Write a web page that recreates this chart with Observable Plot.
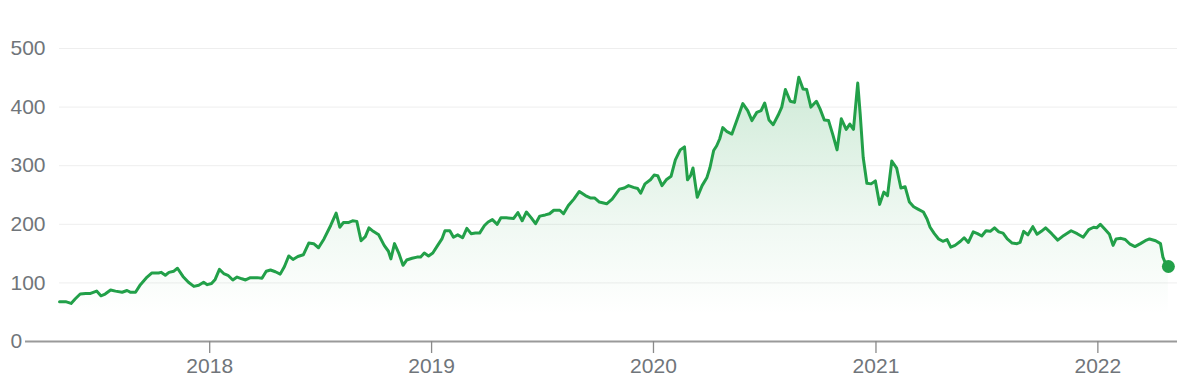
<!DOCTYPE html>
<html><head><meta charset="utf-8">
<script src="https://cdn.jsdelivr.net/npm/d3@7"></script>
<script src="https://cdn.jsdelivr.net/npm/@observablehq/plot@0.6"></script>
<style>
html,body{margin:0;padding:0;background:#fff;}
#chart svg{display:block;}
</style></head><body><div id="chart"></div>
<script>
const dates = ["2017-04-29","2017-05-09","2017-05-18","2017-05-25","2017-06-02","2017-06-11","2017-06-19","2017-06-29","2017-07-06","2017-07-13","2017-07-22","2017-07-30","2017-08-10","2017-08-18","2017-08-24","2017-09-01","2017-09-09","2017-09-20","2017-09-28","2017-10-09","2017-10-13","2017-10-20","2017-10-26","2017-11-03","2017-11-09","2017-11-18","2017-11-27","2017-12-06","2017-12-14","2017-12-22","2017-12-28",
"2018-01-04","2018-01-10","2018-01-17","2018-01-24","2018-01-31","2018-02-08","2018-02-15","2018-02-23","2018-03-01","2018-03-09","2018-03-20","2018-03-28","2018-04-04","2018-04-11","2018-04-19","2018-04-27","2018-05-04","2018-05-11","2018-05-18","2018-05-26","2018-06-04","2018-06-13","2018-06-21","2018-06-29","2018-07-08","2018-07-19","2018-07-28","2018-08-03","2018-08-09","2018-08-17","2018-08-24","2018-08-31","2018-09-07","2018-09-14","2018-09-20","2018-09-27","2018-10-06","2018-10-15","2018-10-22","2018-10-26","2018-11-01","2018-11-08","2018-11-15","2018-11-21","2018-11-30","2018-12-08","2018-12-14","2018-12-20","2018-12-27",
"2019-01-03","2019-01-11","2019-01-18","2019-01-23","2019-01-31","2019-02-06","2019-02-13","2019-02-21","2019-02-28","2019-03-07","2019-03-14","2019-03-21","2019-03-29","2019-04-04","2019-04-11","2019-04-19","2019-04-25","2019-05-04","2019-05-16","2019-05-23","2019-05-30","2019-06-06","2019-06-14","2019-06-21","2019-06-28","2019-07-07","2019-07-14","2019-07-21","2019-07-31","2019-08-06","2019-08-14","2019-08-23","2019-09-01","2019-09-11","2019-09-19","2019-09-26","2019-10-04","2019-10-16","2019-10-25","2019-11-06","2019-11-14","2019-11-21","2019-11-29","2019-12-06","2019-12-11","2019-12-18","2019-12-27",
"2020-01-02","2020-01-08","2020-01-15","2020-01-22","2020-01-30","2020-02-06","2020-02-14","2020-02-21","2020-02-26","2020-03-02","2020-03-06","2020-03-13","2020-03-21","2020-03-29","2020-04-03","2020-04-09","2020-04-14","2020-04-19","2020-04-24","2020-05-01","2020-05-09","2020-05-17","2020-05-27","2020-06-04","2020-06-11","2020-06-19","2020-06-26","2020-07-02","2020-07-09","2020-07-16","2020-07-24","2020-07-30","2020-08-05","2020-08-13","2020-08-20","2020-08-27","2020-09-03","2020-09-09","2020-09-16","2020-09-25","2020-10-01","2020-10-08","2020-10-15","2020-10-22","2020-10-29","2020-11-05","2020-11-13","2020-11-19","2020-11-25","2020-12-02","2020-12-06","2020-12-11","2020-12-17","2020-12-24","2020-12-31",
"2021-01-07","2021-01-14","2021-01-20","2021-01-27","2021-02-04","2021-02-11","2021-02-18","2021-02-25","2021-03-04","2021-03-11","2021-03-20","2021-03-26","2021-03-31","2021-04-07","2021-04-14","2021-04-21","2021-04-28","2021-05-04","2021-05-11","2021-05-20","2021-05-26","2021-06-02","2021-06-10","2021-06-17","2021-06-24","2021-07-01","2021-07-08","2021-07-15","2021-07-22","2021-07-29","2021-08-05","2021-08-13","2021-08-21","2021-08-26","2021-09-01","2021-09-08","2021-09-16","2021-09-23","2021-09-30","2021-10-07","2021-10-17","2021-10-27","2021-11-06","2021-11-18","2021-11-28","2021-12-08","2021-12-17","2021-12-25","2021-12-30",
"2022-01-05","2022-01-13","2022-01-20","2022-01-26","2022-01-31","2022-02-08","2022-02-15","2022-02-23","2022-03-03","2022-03-12","2022-03-20","2022-03-27","2022-04-06","2022-04-14","2022-04-18","2022-04-22","2022-04-27"];

const prices = [68,68,65,73,81,82,82,86,78,81,88,86,84,87,84,84,97,110,117,117,118,113,118,120,125,111,101,94,96,101,97,
99,106,123,116,113,105,110,107,105,109,109,108,120,122,119,115,128,146,140,145,148,168,167,160,175,198,219,195,203,203,206,205,172,179,194,188,182,164,154,141,167,151,130,139,142,144,144,151,146,
151,164,175,189,189,178,182,177,193,184,185,185,198,204,208,200,211,211,210,220,206,221,211,201,214,216,218,224,224,218,232,243,256,249,245,245,238,235,243,260,262,266,263,261,253,269,276,
284,283,266,276,282,310,327,332,276,283,296,246,266,280,297,326,334,346,365,358,354,377,406,394,377,391,394,407,378,370,386,400,430,410,408,451,431,430,400,410,397,378,377,353,327,380,362,371,362,441,389,314,270,269,274,
234,255,249,308,296,262,264,238,230,226,221,209,195,184,175,171,174,161,164,171,177,169,187,184,180,189,188,194,187,185,175,168,167,169,188,182,196,183,188,194,184,173,181,189,184,178,191,195,194,
200,191,183,164,175,176,174,166,162,167,172,175,172,167,144,134,128];

const yTicks = [0, 100, 200, 300, 400, 500];
const xTickDates = ["2018-01-01", "2019-01-01", "2020-01-01", "2021-01-01", "2022-01-01"];
const xTickLabels = ["2018", "2019", "2020", "2021", "2022"];
const xDomainDates = ["2017-03-04", "2022-05-12"];

const data = dates.map((d, i) => ({date: new Date(d), price: prices[i]}));
const last = data[data.length - 1];
const xTicks = xTickDates.map(d => new Date(d));
const xDomain = xDomainDates.map(d => new Date(d));
const green = "#22a049";

const gradientDefs = () => {
  const ns = "http://www.w3.org/2000/svg";
  const defs = document.createElementNS(ns, "defs");
  defs.innerHTML = `<linearGradient id="areaFill" x1="0" y1="0" x2="0" y2="1">
    <stop offset="0" stop-color="${green}" stop-opacity="0.22"/>
    <stop offset="0.55" stop-color="${green}" stop-opacity="0.07"/>
    <stop offset="0.9" stop-color="${green}" stop-opacity="0"/>
  </linearGradient>`;
  return defs;
};

const chart = Plot.plot({
  width: 1200,
  height: 390,
  marginLeft: 25,
  marginRight: 23,
  marginTop: 48,
  marginBottom: 49,
  style: {fontFamily: "'Liberation Sans', Arial, sans-serif", fontSize: "21px", color: "#70757a", background: "#fff", overflow: "visible"},
  x: {type: "utc", domain: xDomain, label: null},
  y: {domain: [0, 500], label: null},
  marks: [
    gradientDefs,
    Plot.ruleY(yTicks.slice(1), {x1: () => data[0].date, x2: () => xDomain[1], stroke: "#eeeeee", strokeWidth: 1}),
    Plot.areaY(data, {x: "date", y: "price", fill: "url(#areaFill)"}),
    Plot.lineY(data, {x: "date", y: "price", stroke: green, strokeWidth: 3, strokeLinejoin: "round", strokeLinecap: "round"}),
    Plot.ruleY([0], {stroke: "#9a9a9a", strokeWidth: 2}),
    Plot.dot([last], {x: "date", y: "price", r: 6.5, fill: green}),
    Plot.axisY(yTicks, {anchor: "left", label: null, tickSize: 0, tickPadding: 15, textAnchor: "start", fill: "#70757a", letterSpacing: "1px"}),
    Plot.axisX(xTicks, {anchor: "bottom", label: null, tickSize: 12, tickPadding: 5, stroke: "#8a8a8a", strokeWidth: 1.3, fill: "#70757a", letterSpacing: "1px",
      tickFormat: d => xTickLabels[xTicks.findIndex(t => +t === +d)]})
  ]
});
document.getElementById("chart").appendChild(chart);
</script>
</body></html>
